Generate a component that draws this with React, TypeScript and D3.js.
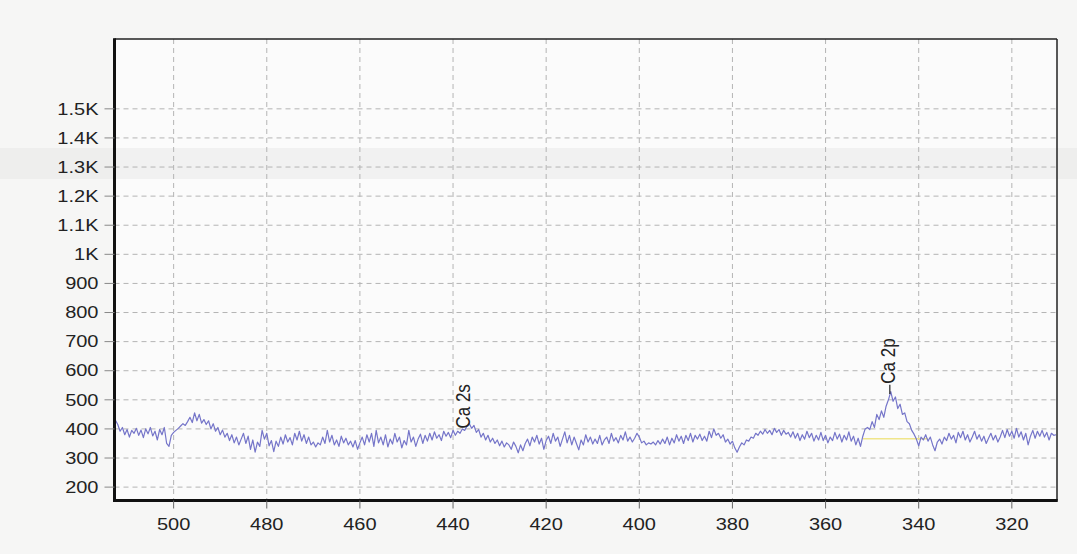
import React from "react";
import * as d3 from "d3";

// Binding energy grid (eV), descending, and counts
const energyStart = 512.5;
const energyStep = 0.5;
const counts: number[] = [
  430, 415, 392, 405, 380, 398, 372, 395, 385, 402, 378, 396, 370, 400, 383, 405, 376, 392, 362, 398,
  380, 405, 350, 340, 378, 388, 395, 402, 410, 418, 412, 425, 440, 422, 455, 428, 450, 420, 432, 415,
  428, 400, 418, 392, 405, 380, 396, 372, 385, 360, 380, 352, 372, 345, 365, 385, 350, 375, 330, 362,
  320, 355, 340, 395, 365, 385, 342, 360, 322, 358, 340, 372, 348, 380, 355, 370, 345, 385, 362, 392,
  358, 380, 350, 372, 345, 355, 338, 352, 345, 372, 350, 395, 355, 378, 345, 362, 340, 375, 352, 368,
  345, 358, 338, 360, 330, 352, 372, 345, 380, 355, 385, 340, 395, 352, 372, 345, 380, 338, 365, 348,
  385, 355, 372, 335, 360, 345, 395, 355, 372, 340, 365, 382, 350, 378, 358, 385, 362, 390, 368, 380,
  360, 392, 375, 388, 370, 395, 378, 392, 385, 400, 395, 410, 418, 402, 412, 388, 398, 372, 385, 362,
  378, 355, 368, 350, 362, 342, 358, 338, 352, 345, 330, 355, 340, 318, 345, 325, 350, 365, 342, 372,
  355, 378, 348, 368, 330, 360, 375, 350, 385, 358, 372, 340, 365, 390, 352, 378, 345, 372, 350, 328,
  362, 345, 380, 355, 372, 348, 365, 350, 378, 345, 362, 372, 350, 385, 358, 370, 352, 378, 362, 390,
  358, 372, 355, 368, 385, 372, 352, 358, 345, 352, 348, 355, 345, 360, 348, 365, 350, 372, 345, 368,
  352, 380, 358, 375, 350, 378, 360, 385, 355, 378, 365, 382, 360, 375, 358, 392, 370, 400, 378, 385,
  368, 380, 355, 365, 348, 358, 335, 320, 338, 352, 345, 362, 358, 372, 368, 385, 378, 392, 382, 398,
  385, 395, 380, 402, 388, 398, 378, 395, 382, 388, 372, 390, 368, 385, 360, 380, 365, 392, 370, 385,
  358, 378, 362, 388, 360, 378, 352, 372, 360, 388, 365, 382, 355, 378, 362, 390, 358, 375, 345, 368,
  340, 375, 400, 405, 398, 425, 405, 450, 432, 462, 440, 478, 500, 528, 495, 510, 470, 485, 450, 455,
  425, 418, 395, 382, 365, 342, 372, 362, 380, 358, 372, 345, 325, 355, 365, 348, 372, 360, 385, 365,
  378, 352, 388, 370, 392, 362, 380, 355, 372, 392, 365, 380, 358, 375, 350, 368, 385, 362, 378, 355,
  372, 395, 370, 398, 375, 392, 368, 402, 372, 390, 362, 385, 345, 375, 395, 368, 392, 375, 395, 372,
  388, 362, 385, 378, 380,
];

const xTicks = [500, 480, 460, 440, 420, 400, 380, 360, 340, 320];
const yTicks = [200, 300, 400, 500, 600, 700, 800, 900, 1000, 1100, 1200, 1300, 1400, 1500];
const yTickLabels = ["200", "300", "400", "500", "600", "700", "800", "900", "1K", "1.1K", "1.2K", "1.3K", "1.4K", "1.5K"];

const peakNames = ["Ca 2s", "Ca 2p"];
const peakEnergies = [437.6, 346.2];
const peakCounts = [402, 520];
const peakLabelCounts = [398, 552];

const bgEnergies = [352, 338];
const bgCounts = [366, 366];

const W = 1077;
const H = 554;
const left = 114.5;
const right = 1057;
const top = 39;
const bottom = 500.5;

export default function App() {
  const x = d3.scaleLinear().domain([512.7, 310.3]).range([left, right]);
  const y = d3.scaleLinear().domain([154, 1740]).range([bottom, top]);

  const data = counts.map((c, i) => [energyStart - energyStep * i, c] as [number, number]);
  const line = d3
    .line<[number, number]>()
    .x((d) => x(d[0]))
    .y((d) => y(d[1]));
  const bgLine = d3
    .line<number>()
    .x((d) => x(d))
    .y((_d, i) => y(bgCounts[i]));

  const font = "'Liberation Sans', Arial, sans-serif";

  return (
    <svg
      width={W}
      height={H}
      style={{ position: "absolute", left: 0, top: 0, display: "block" }}
    >
      <defs>
        <clipPath id="plotClip">
          <rect x={left} y={top} width={right - left} height={bottom - top} />
        </clipPath>
      </defs>
      <rect x={0} y={0} width={W} height={H} fill="#f6f6f5" />
      <rect x={left} y={top} width={right - left} height={bottom - top} fill="#fbfbfb" />
      <rect x={0} y={148} width={W} height={31} fill="#e4e4e4" opacity={0.45} />

      {/* grid */}
      <g stroke="#b4b4b4" strokeWidth={1} strokeDasharray="5,4" fill="none">
        {yTicks.map((t) => (
          <line key={"gy" + t} x1={left} x2={right} y1={y(t)} y2={y(t)} />
        ))}
        {xTicks.map((t) => (
          <line key={"gx" + t} x1={x(t)} x2={x(t)} y1={top} y2={bottom} />
        ))}
      </g>

      {/* background line under Ca 2p */}
      <path d={bgLine(bgEnergies) || ""} stroke="#f0e58a" strokeWidth={1.6} fill="none" />

      {/* spectrum */}
      <g clipPath="url(#plotClip)">
        <path d={line(data) || ""} stroke="#7575c9" strokeWidth={1.2} fill="none" strokeLinejoin="round" />
      </g>

      {/* peak labels */}
      {peakNames.map((name, i) => {
        const px = x(peakEnergies[i]);
        const py = y(peakCounts[i]);
        const ly = y(peakLabelCounts[i]);
        return (
          <g key={name}>
            {ly < py && <line x1={px} x2={px} y1={py} y2={ly} stroke="#222" strokeWidth={1.2} />}
            <text
              transform={`translate(${px + 5.5},${ly - 1}) rotate(-90) scale(1,1.15)`}
              fontFamily={font}
              fontSize={17}
              fill="#222"
            >
              {name}
            </text>
          </g>
        );
      })}

      {/* frame */}
      <line x1={left} x2={right} y1={top} y2={top} stroke="#222" strokeWidth={1.5} />
      <line x1={right} x2={right} y1={top} y2={bottom} stroke="#222" strokeWidth={1.5} />
      <line x1={left} x2={left} y1={top - 0.75} y2={bottom + 1.5} stroke="#111" strokeWidth={3} />
      <line x1={left - 1.5} x2={right + 0.75} y1={bottom} y2={bottom} stroke="#111" strokeWidth={3} />

      {/* y axis ticks and labels */}
      {yTicks.map((t, i) => (
        <g key={"yt" + t}>
          <line x1={left - 10} x2={left} y1={y(t)} y2={y(t)} stroke="#888" strokeWidth={1} />
          <g transform={`translate(${98.5},${y(t)}) scale(1.25,1)`}>
            <text textAnchor="end" dy="0.36em" fontFamily={font} fontSize={16} fill="#222">
              {yTickLabels[i]}
            </text>
          </g>
        </g>
      ))}

      {/* x axis ticks and labels */}
      {xTicks.map((t) => (
        <g key={"xt" + t}>
          <line x1={x(t)} x2={x(t)} y1={bottom} y2={bottom + 8} stroke="#666" strokeWidth={1} />
          <g transform={`translate(${x(t)},${530}) scale(1.25,1)`}>
            <text textAnchor="middle" fontFamily={font} fontSize={16} fill="#222">
              {t}
            </text>
          </g>
        </g>
      ))}
    </svg>
  );
}
